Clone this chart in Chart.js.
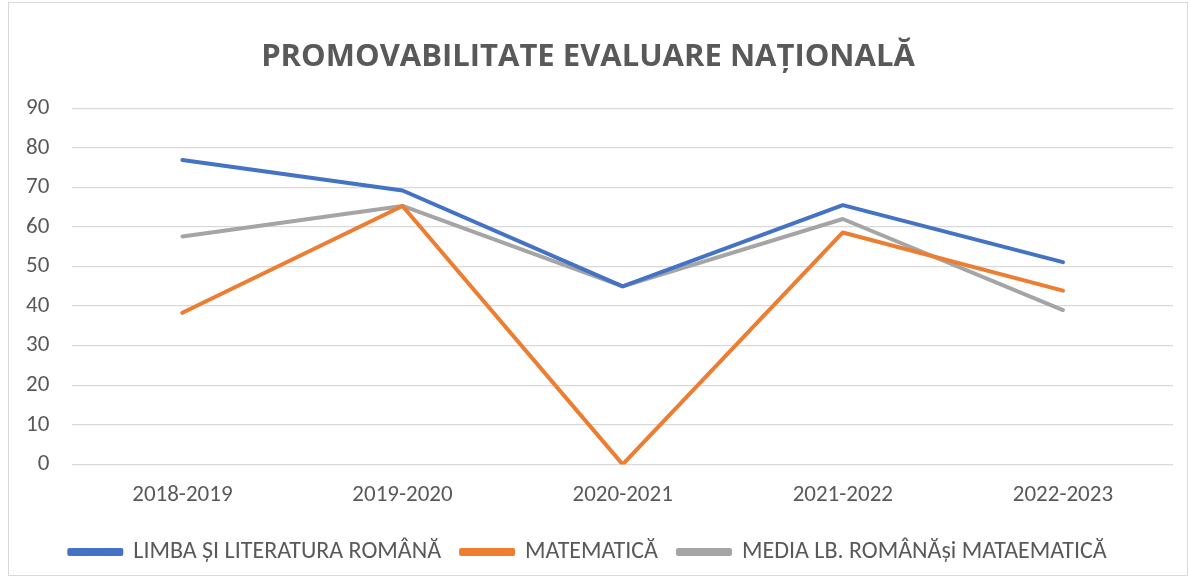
<!DOCTYPE html>
<html>
<head>
<meta charset="utf-8">
<script src="https://cdn.jsdelivr.net/npm/chart.js@4"></script>
<style>
  body { margin: 0; background: #fff; }
  #chart { position: absolute; left: 0; top: 0; }
  #frame { position: absolute; left: 8px; top: 2px; width: 1180px; height: 574px; border: 1px solid #d9d9d9; box-sizing: border-box; pointer-events: none; }
</style>
</head>
<body>
<canvas id="chart" width="1190" height="578"></canvas>
<div id="frame"></div>
<script>
const categories = ['2018-2019', '2019-2020', '2020-2021', '2021-2022', '2022-2023'];
const limba = [76.9, 69.2, 45, 65.5, 51.1];
const matematica = [38.3, 65.3, 0, 58.6, 43.9];
const media = [57.6, 65.3, 45, 62, 39];
const seriesNames = ['LIMBA ȘI LITERATURA ROMÂNĂ', 'MATEMATICĂ', 'MEDIA LB. ROMÂNĂși MATAEMATICĂ'];

const font = "Carlito, 'Liberation Sans Narrow', 'Liberation Sans', sans-serif";

const ds = (label, data, color) => ({
  label, data, borderColor: color, backgroundColor: color,
  borderWidth: 4, pointRadius: 0, tension: 0, borderCapStyle: 'round', borderJoinStyle: 'round'
});

new Chart(document.getElementById('chart').getContext('2d'), {
  type: 'line',
  data: {
    labels: categories,
    datasets: [
      ds(seriesNames[0], limba, '#4472c4'),
      ds(seriesNames[1], matematica, '#ed7d31'),
      ds(seriesNames[2], media, '#a5a5a5')
    ]
  },
  options: {
    responsive: false,
    animation: false,
    layout: { padding: { left: 3, right: 17, top: 10, bottom: 4 } },
    plugins: {
      title: {
        display: true,
        text: 'PROMOVABILITATE EVALUARE NAȚIONALĂ',
        color: '#595959',
        font: { family: "'Open Sans', sans-serif", size: 31, weight: 'bold' },
        padding: { top: 29, bottom: 32 }
      },
      legend: {
        position: 'bottom',
        labels: {
          color: '#595959',
          font: { family: font, size: 24 },
          boxWidth: 52, boxHeight: 4, padding: 20
        }
      },
      tooltip: { enabled: false }
    },
    scales: {
      x: {
        offset: true,
        grid: { display: false },
        border: { display: false },
        ticks: { color: '#595959', font: { family: font, size: 23 }, padding: 9 },
        afterFit(scale) { scale.height += 2; }
      },
      y: {
        min: 0, max: 90,
        ticks: { stepSize: 10, color: '#595959', font: { family: font, size: 23 }, padding: 23 },
        grid: { color: '#d9d9d9', lineWidth: 1.3, drawTicks: false },
        border: { display: false }
      }
    }
  }
});
</script>
</body>
</html>
